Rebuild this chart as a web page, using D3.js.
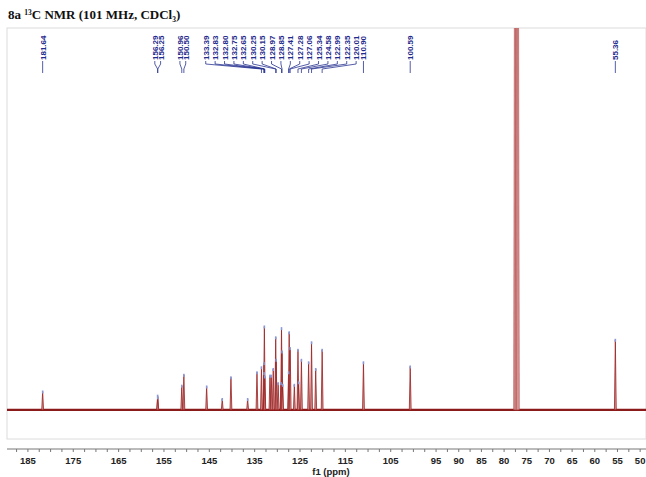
<!DOCTYPE html>
<html>
<head>
<meta charset="utf-8">
<script src="https://cdn.jsdelivr.net/npm/d3@7"></script>
<style>
  body { margin: 0; background: #fff; }
  svg { display: block; }
</style>
</head>
<body>
<div id="chart"></div>
<script>
// ppm values that carry a label on the axis
const tickLabels = [185, 175, 165, 155, 145, 135, 125, 115, 105, 95, 90, 85, 80, 75, 70, 65, 60, 55, 50];

// peak-picking labels (ppm), left to right
const peakLabels = [181.64, 156.29, 156.25, 150.96, 150.50, 133.39, 132.83, 132.80, 132.75, 132.65,
  130.25, 130.15, 128.97, 128.85, 127.41, 127.28, 127.06, 125.34, 124.58, 122.99, 122.35,
  120.01, 110.90, 100.59, 55.36];

// spectrum peaks: position (ppm) and height (tallest sample peak = 100)
const peakPpm = [181.64, 156.29, 156.25, 150.96, 150.50, 145.48, 142.04, 140.12, 136.44, 134.38,
  133.39, 132.83, 132.80, 132.75, 132.65, 131.52, 131.23, 130.79, 130.25, 130.15, 129.72,
  129.09, 128.97, 128.85, 128.72, 127.41, 127.28, 127.06, 126.14, 125.34, 125.19, 124.58,
  122.99, 122.35, 121.43, 120.01, 110.90, 100.59, 55.36];
const peakHeight = [22, 17, 15, 29, 42, 28, 13, 39, 13, 45,
  51, 56, 44, 100, 40, 41, 41, 49, 87, 60, 32,
  32, 98, 70, 30, 45, 93, 74, 30, 72, 33, 60,
  57, 81, 49, 72, 57, 52, 84];

// CDCl3 solvent triplet (goes off scale)
const solventPpm = [77.48, 77.16, 76.84];
const solventHeight = [900, 900, 900];

const W = 646, H = 477;
const box = { left: 7, right: 646, top: 28, bottom: 439 };
const axisY = 449;

const svg = d3.select('#chart').append('svg')
  .attr('width', W).attr('height', H)
  .attr('viewBox', [0, 0, W, H].join(' '));

const x = d3.scaleLinear().domain([189.5, 48.6]).range([box.left, box.right]);
const y = d3.scaleLinear().domain([-35, 458]).range([box.bottom, box.top]);

// title
const title = svg.append('text')
  .attr('x', 8).attr('y', 19)
  .style('font-family', '"Liberation Serif", "Times New Roman", serif')
  .style('font-weight', 'bold')
  .style('font-size', '13px')
  .attr('fill', '#111');
title.append('tspan').text('8a ');
title.append('tspan').text('13').style('font-size', '7.5px').attr('dy', -4);
title.append('tspan').text('C NMR (101 MHz, CDCl').attr('dy', 4);
title.append('tspan').text('3').style('font-size', '7.5px').attr('dy', 3);
title.append('tspan').text(')').attr('dy', -3);

// light frame
svg.append('rect')
  .attr('x', box.left).attr('y', box.top)
  .attr('width', box.right - box.left).attr('height', box.bottom - box.top)
  .attr('fill', 'none').attr('stroke', '#dcdcdc').attr('stroke-width', 1);

svg.append('clipPath').attr('id', 'clip')
  .append('rect')
  .attr('x', box.left).attr('y', box.top)
  .attr('width', box.right - box.left).attr('height', box.bottom - box.top);

const plot = svg.append('g').attr('clip-path', 'url(#clip)');

// baseline
plot.append('line')
  .attr('x1', box.left).attr('x2', box.right)
  .attr('y1', y(0)).attr('y2', y(0))
  .attr('stroke', '#8b1a1a').attr('stroke-width', 2.2);

// peaks as narrow spikes
const peaks = peakPpm.map((p, i) => ({ ppm: p, h: peakHeight[i], w: 0.2 }));
const solvent = solventPpm.map((p, i) => ({ ppm: p, h: solventHeight[i], w: 0.3 }));

function spike(d) {
  return 'M' + x(d.ppm + d.w) + ',' + y(0) +
    'L' + x(d.ppm) + ',' + y(d.h) +
    'L' + x(d.ppm - d.w) + ',' + y(0) + 'Z';
}

plot.selectAll('path.peak')
  .data(peaks)
  .enter()
  .append('path')
  .attr('class', 'peak')
  .attr('d', spike)
  .attr('fill', '#d59a9a')
  .attr('stroke', '#9a1f1f')
  .attr('stroke-width', 0.8);

plot.selectAll('path.solvent')
  .data(solvent)
  .enter()
  .append('path')
  .attr('class', 'solvent')
  .attr('d', spike)
  .attr('fill', '#d89a9a')
  .attr('stroke', '#b04444')
  .attr('stroke-width', 0.6);

// small peak-pick markers at the peak tops
plot.selectAll('rect.mark')
  .data(peaks)
  .enter()
  .append('rect')
  .attr('class', 'mark')
  .attr('x', (d) => x(d.ppm) - 0.8)
  .attr('y', (d) => y(d.h) - 1)
  .attr('width', 1.6)
  .attr('height', 3)
  .attr('fill', '#8a9ad8');

// ppm axis
const ticks = d3.range(50, 189, 2.5);
const axis = d3.axisBottom(x)
  .tickValues(ticks)
  .tickSize(3)
  .tickSizeOuter(0)
  .tickFormat((d) => (tickLabels.includes(d) ? d : ''));

const gx = svg.append('g')
  .attr('transform', `translate(0, ${axisY})`)
  .call(axis);
gx.select('.domain').attr('stroke', '#777').attr('d', `M${box.left},0H${box.right}`);
gx.selectAll('.tick line').attr('stroke', '#777');
gx.selectAll('.tick text')
  .attr('y', 8)
  .attr('fill', '#222')
  .style('font-family', '"Liberation Sans", Arial, sans-serif')
  .style('font-weight', 'bold')
  .style('font-size', '9.5px');

svg.append('text')
  .attr('x', 331).attr('y', 475)
  .attr('text-anchor', 'middle')
  .attr('fill', '#222')
  .style('font-family', '"Liberation Sans", Arial, sans-serif')
  .style('font-weight', 'bold')
  .style('font-size', '9.5px')
  .text('f1 (ppm)');

// group labels that would collide, then lay each group out evenly
function spread(targets, gap) {
  const blocks = [];
  targets.forEach((t) => {
    blocks.push({ n: 1, sum: t, c: t });
    while (blocks.length > 1) {
      const b = blocks[blocks.length - 1];
      const a = blocks[blocks.length - 2];
      if (a.c + ((a.n - 1) / 2) * gap + gap <= b.c - ((b.n - 1) / 2) * gap) break;
      blocks.pop();
      a.n += b.n;
      a.sum += b.sum;
      a.c = a.sum / a.n;
    }
  });
  const out = [];
  blocks.forEach((b) => {
    // small clusters stay tight, the big fan is opened up
    const g = b.n > 2 ? 9.4 : 5.8;
    const c = b.n > 2 ? b.c - 4 : b.c;
    for (let k = 0; k < b.n; k++) out.push(c + (k - (b.n - 1) / 2) * g);
  });
  return out;
}

const labelX = spread(peakLabels.map((p) => x(p)), 7.5);
const labels = peakLabels.map((p, i) => ({ ppm: p, lx: labelX[i], px: x(p) }));

const lab = svg.append('g');
lab.selectAll('path')
  .data(labels)
  .enter()
  .append('path')
  .attr('d', (d) => `M${d.lx},61V64L${d.px},69V73`)
  .attr('fill', 'none')
  .attr('stroke', '#2a3592')
  .attr('stroke-width', 0.8);

lab.selectAll('text')
  .data(labels)
  .enter()
  .append('text')
  .attr('transform', (d) => `translate(${d.lx + 3},60) rotate(-90)`)
  .attr('fill', '#1f2a8c')
  .style('font-family', '"Liberation Sans", Arial, sans-serif')
  .style('font-weight', 'bold')
  .style('font-size', '8px')
  .text((d) => d.ppm.toFixed(2));
</script>
</body>
</html>
